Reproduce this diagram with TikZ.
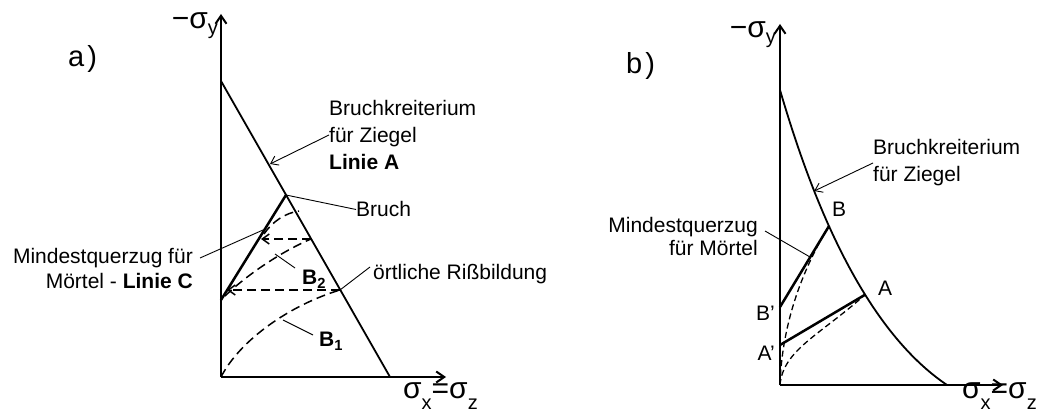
\documentclass[tikz,border=0pt]{standalone}
\usepackage{fontspec}
\setmainfont{Liberation Sans}
\usetikzlibrary{arrows.meta}
\newcommand{\bodyfont}{\fontsize{21}{27}\selectfont}
\newcommand{\sgm}[2]{{\fontsize{30}{30}\selectfont σ}{\fontsize{20}{20}\selectfont\raisebox{-#2}{#1}}}

\begin{document}
\begin{tikzpicture}[x=1pt,y=-1pt,font=\bodyfont,
  axis/.style={line width=2pt,-{Straight Barb[length=8pt,width=11pt]}},
  crit/.style={line width=1.8pt},
  tens/.style={line width=2.5pt},
  ldpath/.style={line width=1.5pt,dash pattern=on 9pt off 5pt},
  ldpathb/.style={line width=1.3pt,dash pattern=on 6pt off 3.5pt},
  back/.style={-{Straight Barb[length=7pt,width=10pt]}},
  lead/.style={line width=0.9pt},
  lbl/.style={inner sep=0pt,align=left}]
\useasboundingbox (0,0) rectangle (1037,414);
% a)
\node[lbl,anchor=base west] (ta) at (68,67) {\fontsize{29}{29}\selectfont a\kern3pt)};
\coordinate (oa) at (221,377);
\coordinate (ya) at (221,14);
\coordinate (xa) at (446,377);
\coordinate (atop) at (221,81);
\coordinate (abot) at (390,377);
\coordinate (bruch) at (286,195);
\coordinate (cbot) at (221,300);
\coordinate (h1r) at (340,290);
\coordinate (h1l) at (227,290);
\coordinate (h2r) at (311,239);
\coordinate (h2l) at (261,239);
\coordinate (b2s) at (225,296);
\coordinate (b2u) at (264,234);
\coordinate (b2e) at (299,211);
\draw[axis] (oa) -- (ya);
\draw[axis] (oa) -- (xa);
\draw[crit] (atop) -- (abot);
\draw[tens] (cbot) -- (bruch);
\draw[ldpath] (oa) .. controls (240,340) and (290,305) .. (h1r);
\draw[ldpath,back] (h1r) -- (h1l);
\draw[ldpath] (b2s) .. controls (250,272) and (285,250) .. (h2r);
\draw[ldpath,back] (h2r) -- (h2l);
\draw[ldpath] (b2u) .. controls (272,222) and (285,213) .. (b2e);
\node[lbl,anchor=base east] (sya) at (218,29) {\fontsize{30}{30}\selectfont −\sgm{y}{6pt}};
\node[lbl,anchor=base west] (sxa) at (403,398) {\fontsize{30}{30}\selectfont\sgm{x}{11pt}=\sgm{z}{11pt}};
\coordinate (pa) at (270,164);
\coordinate (pc) at (263,230);
\coordinate (pr) at (340,290);
\coordinate (pb2) at (275,254);
\coordinate (pb1) at (283,320);
\node[lbl,anchor=west] (critA) at (329,135) {Bruchkreiterium\\für Ziegel\\\textbf{Linie A}};
\node[lbl,anchor=base west] (lbruch) at (356,217) {Bruch};
\node[lbl,anchor=east,align=right,font=\fontsize{21}{25}\selectfont] (minA) at (193,268) {Mindestquerzug für\\Mörtel - \textbf{Linie C}};
\node[lbl,anchor=base west] (riss) at (373,280) {örtliche Rißbildung};
\node[lbl,anchor=base west] (lb2) at (302,285) {\textbf{B\textsubscript{2}}};
\node[lbl,anchor=base west] (lb1) at (319,347) {\textbf{B\textsubscript{1}}};
\draw[lead,back] (critA.west) -- (pa);
\draw[lead] (bruch) -- (lbruch.west);
\draw[lead] ([shift={(7,-10)}]minA.east) -- (pc);
\draw[lead] ([shift={(-3,-13)}]riss.base west) -- (pr);
\draw[lead] ([shift={(-7,-17)}]lb2.base west) -- (pb2);
\draw[lead] ([shift={(-6,-12)}]lb1.base west) -- (pb1);
% b)
\node[lbl,anchor=base west] (tb) at (626,74) {\fontsize{29}{29}\selectfont b\kern3pt)};
\coordinate (ob) at (780,385);
\coordinate (yb) at (780,24);
\coordinate (xb) at (1003,385);
\coordinate (bpr) at (780,307);
\coordinate (apr) at (780,345);
\draw[axis] (ob) -- (yb);
\draw[axis] (ob) -- (xb);
\draw[crit] (780,90) .. controls (805,175) and (855,323) .. (947,385)
  coordinate[pos=0.335] (pcrit) coordinate[pos=0.44] (ptB) coordinate[pos=0.65] (ptA);
\draw[tens] (bpr) -- (ptB);
\draw[tens] (apr) -- (ptA);
\draw[ldpathb] (ob) .. controls (782,320) and (805,265) .. (ptB);
\draw[ldpathb] (ob) .. controls (783,350) and (820,335) .. (ptA);
\node[lbl,anchor=base east] (syb) at (776,38) {\fontsize{30}{30}\selectfont −\sgm{y}{6pt}};
\node[lbl,anchor=base west] (sxb) at (962,398) {\fontsize{30}{30}\selectfont\sgm{x}{11pt}=\sgm{z}{11pt}};
\coordinate (pmb) at (810,257);
\node[lbl,anchor=west] (critB) at (873,163) {Bruchkreiterium\\für Ziegel};
\node[lbl,anchor=east,align=right,font=\fontsize{21}{23}\selectfont] (minB) at (758,236) {Mindestquerzug\\für Mörtel};
\node[lbl,anchor=base west] (lB) at (832,217) {B};
\node[lbl,anchor=base west] (lA) at (878,296) {A};
\node[lbl,anchor=base east] (lBp) at (775,320) {B'};
\node[lbl,anchor=base east] (lAp) at (775,360) {A'};
\draw[lead,back] (critB.west) -- (pcrit);
\draw[lead] ([shift={(7,-5)}]minB.east) -- (pmb);
\end{tikzpicture}
\end{document}
